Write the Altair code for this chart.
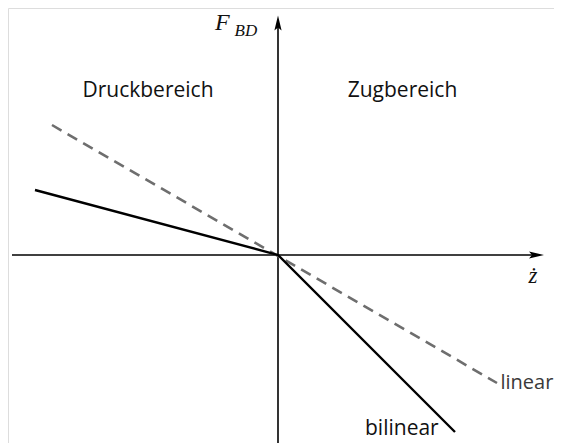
import altair as alt
import pandas as pd

# --- data (abstract units: zdot velocity, F_BD damper force) ---
linear_z = [-2.26, 2.19]
linear_F = [1.30, -1.28]

bilinear_z = [-2.43, 0.0, 1.77]
bilinear_F = [0.65, 0.0, -1.77]

region_labels = ["Druckbereich", "Zugbereich"]
region_z = [-1.30, 1.245]
region_F = [1.58, 1.58]

x_dom = [-2.70, 2.76]
y_dom = [-1.88, 2.47]
xs = alt.Scale(domain=x_dom, nice=False, zero=False)
ys = alt.Scale(domain=y_dom, nice=False, zero=False)

def X(f="x"):
    return alt.X(f"{f}:Q", scale=xs, axis=None)

def Y(f="y"):
    return alt.Y(f"{f}:Q", scale=ys, axis=None)

df_lin = pd.DataFrame({"x": linear_z, "y": linear_F, "o": range(len(linear_z))})
df_bil = pd.DataFrame({"x": bilinear_z, "y": bilinear_F, "o": range(len(bilinear_z))})

# axes
xaxis = alt.Chart(pd.DataFrame({"x": [-2.66], "x2": [2.585], "y": [0.0]})).mark_rule(
    color="black", strokeWidth=1.6
).encode(x=X(), x2="x2:Q", y=Y())
yaxis = alt.Chart(pd.DataFrame({"x": [0.0], "y": [-1.88], "y2": [2.32]})).mark_rule(
    color="black", strokeWidth=1.6
).encode(x=X(), y=Y(), y2="y2:Q")

arrow_r = alt.Chart(pd.DataFrame({"x": [2.585], "y": [0.0]})).mark_point(
    shape="M1,0L-1,-0.48L-0.6,0L-1,0.48Z", filled=True, color="black", size=225, opacity=1, strokeWidth=0
).encode(x=X(), y=Y())
arrow_u = alt.Chart(pd.DataFrame({"x": [0.0], "y": [2.32]})).mark_point(
    shape="M0,-1L-0.48,1L0,0.6L0.48,1Z", filled=True, color="black", size=225, opacity=1, strokeWidth=0
).encode(x=X(), y=Y())

lin = alt.Chart(df_lin).mark_line(color="#6e6e6e", strokeWidth=2.6, strokeDash=[11, 7]).encode(
    x=X(), y=Y(), order="o:Q"
)
bil = alt.Chart(df_bil).mark_line(color="black", strokeWidth=2.4).encode(
    x=X(), y=Y(), order="o:Q"
)

regions = alt.Chart(pd.DataFrame({"x": region_z, "y": region_F, "t": region_labels})).mark_text(
    font="Open Sans", fontSize=21, align="center", baseline="alphabetic", color="#111"
).encode(x=X(), y=Y(), text="t:N")

lab_lin = alt.Chart(pd.DataFrame({"x": [2.225], "y": [-1.34], "t": ["linear"]})).mark_text(
    font="Open Sans", fontSize=20, align="left", baseline="alphabetic", color="#3a3a3a"
).encode(x=X(), y=Y(), text="t:N")
lab_bil = alt.Chart(pd.DataFrame({"x": [0.87], "y": [-1.80], "t": ["bilinear"]})).mark_text(
    font="Open Sans", fontSize=21, align="left", baseline="alphabetic", color="#111"
).encode(x=X(), y=Y(), text="t:N")

lab_F = alt.Chart(pd.DataFrame({"x": [-0.63], "y": [2.25], "t": ["F"]})).mark_text(
    font="Liberation Serif", fontStyle="italic", fontSize=24, align="left", baseline="alphabetic", color="#111"
).encode(x=X(), y=Y(), text="t:N")
lab_BD = alt.Chart(pd.DataFrame({"x": [-0.435], "y": [2.19], "t": ["BD"]})).mark_text(
    font="Liberation Serif", fontStyle="italic", fontSize=17, align="left", baseline="alphabetic", color="#111"
).encode(x=X(), y=Y(), text="t:N")
lab_z = alt.Chart(pd.DataFrame({"x": [2.55], "y": [-0.28], "t": ["ż"]})).mark_text(
    font="Liberation Serif", fontStyle="italic", fontSize=23, align="center", baseline="alphabetic", color="#111"
).encode(x=X(), y=Y(), text="t:N")

chart = alt.layer(
    xaxis, yaxis, lin, bil, arrow_r, arrow_u, regions, lab_lin, lab_bil, lab_F, lab_BD, lab_z
).properties(
    width=546, height=435, padding=0, autosize=alt.AutoSizeParams(type="none")
).configure_view(stroke=None).configure(background="white")

chart.save("out.html", embed_options={"renderer": "svg", "actions": False})
